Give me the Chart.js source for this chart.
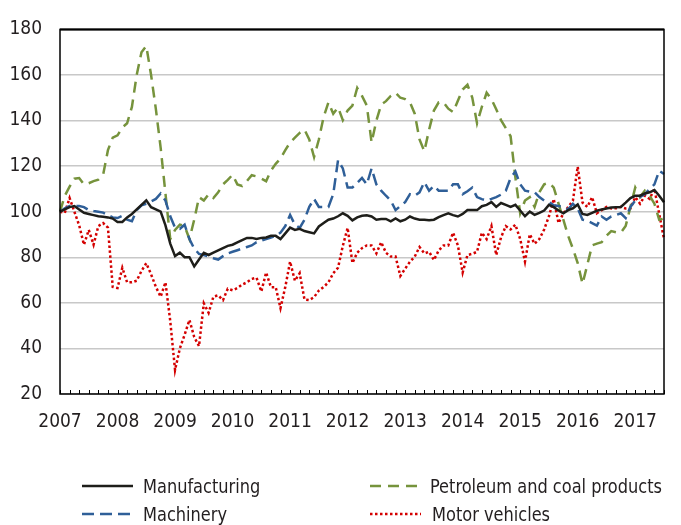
<!DOCTYPE html>
<html>
<head>
<meta charset="utf-8">
<script src="https://cdn.jsdelivr.net/npm/chart.js@4.4.1/dist/chart.umd.min.js"></script>
<style>
  html, body { margin: 0; padding: 0; background: #fff; }
  #wrap { position: relative; width: 681px; height: 525px; }
  #legend { position: absolute; left: 0; top: 0; width: 681px; height: 525px; pointer-events: none;
            font-family: "Liberation Sans Narrow", "Arial Narrow", "DejaVu Sans Condensed", sans-serif;
            font-size: 20px; color: #231f20; }
  .item { position: absolute; display: flex; align-items: center; white-space: nowrap; height: 24px; }
  .item span { display: inline-block; transform: scaleX(0.9); transform-origin: left center; }
</style>
</head>
<body>
<div id="wrap">
  <canvas id="myChart" width="681" height="525"></canvas>
  <div id="legend"></div>
</div>
<script>
// month labels Jan 2007 .. Jul 2017
const years = [2007, 2008, 2009, 2010, 2011, 2012, 2013, 2014, 2015, 2016, 2017];
const months = [];
years.forEach(y => {
    for (let m = 1; m <= 12; m++) months.push(y + '-' + String(m).padStart(2, '0'));
});
months.length = 127;

const yTicks = [20, 40, 60, 80, 100, 120, 140, 160, 180];

// index values, Jan 2007 = 100
const manufacturing = [
    100, 101, 102, 102.5, 101, 99.5, 99, 98.5, 98, 97.8, 97.5, 97,
    95.5, 95.5, 97.5, 99, 101, 103, 105, 102, 101, 100, 94, 86,
    80.5, 82, 80, 80, 76, 79, 82, 81, 82, 83, 84, 85,
    85.5, 86.5, 87.5, 88.5, 88.5, 88, 88.5, 88.7, 89.4, 89.4, 88, 90.5,
    93, 92, 92.5, 91.5, 91, 90.5, 93.5, 95, 96.5, 97, 98, 99.3,
    98.2, 96.2, 97.5, 98.2, 98.4, 97.9, 96.5, 96.8, 96.8, 95.8, 97, 95.8,
    96.5, 97.9, 97, 96.5, 96.5, 96.2, 96.5, 97.6, 98.5, 99.3, 98.5, 97.9,
    99, 100.7, 100.7, 100.7, 102.4, 103, 104.2, 102.1, 103.8, 103, 102.1, 103,
    100.5, 98, 100, 98.6, 99.5, 100.5, 103, 102, 100.5, 99.3, 100.7, 101.5,
    103.2, 99, 98.6, 99.5, 100.4, 101, 101.4, 101.8, 102, 102.1, 104, 106,
    107, 107, 108, 108.5, 109.5, 107, 104.2
];
const machinery = [
    100, 101.5, 102.5, 102.5, 102.5, 102, 100.7, 100.3, 100, 99.6, 98.5, 97.5,
    97.2, 98.2, 96.5, 95.8, 100.7, 102.8, 103.5, 104.5, 105.6, 108, 104.9, 98,
    93, 92.5, 94.3, 88, 83.8, 81.5, 81, 80.3, 79.6, 79, 80.5, 81.7,
    82.4, 83.1, 83.8, 84.5, 85.2, 86.6, 87.3, 88, 88.7, 89.4, 90.8, 93.7,
    98.6, 94.3, 92.9, 96.5, 102.1, 105.6, 102.1, 102.1, 102.1, 107.7, 122.6, 119,
    110.6, 110.6, 112.7, 114.8, 112, 119, 112, 109.2, 107, 104.9, 100.7, 102.5,
    104.2, 107.7, 107, 108.5, 113, 109.2, 111.3, 109.2, 109.2, 109.2, 112, 112,
    107.7, 109, 110.6, 106.4, 105.5, 104.9, 105.6, 106.4, 107.5, 109.2, 114.8, 117.6,
    112, 109.2, 108.8, 108.5, 106.4, 104.9, 104.2, 102.8, 102.5, 102.1, 101, 103.5,
    101.4, 96.5, 96, 95, 93.9, 97.9, 96.5, 97.9, 98.5, 99.3, 97.2, 102.1,
    104.9, 106.5, 107.7, 110, 112, 118, 116.5
];
const petroleum = [
    100, 107, 111, 114.5, 114.8, 112, 112.5, 113.4, 114.1, 116.2, 127, 132.5,
    133.5, 137, 138.8, 146, 160, 170, 172.7, 160, 145, 128, 108, 88,
    92, 94.3, 93.7, 88, 96.5, 106.4, 104.9, 107.7, 106, 108.5, 112, 114,
    116.2, 112, 111.3, 113.5, 116, 115.5, 114.5, 113.4, 118, 121, 123.3, 127,
    130.4, 132.5, 134.6, 136, 131.7, 124, 131.7, 141.6, 148, 143, 145.8, 140.2,
    144.4, 146.6, 154.3, 150.8, 146.6, 130.4, 140, 147, 148.5, 150.8, 152.2, 150,
    149.4, 148, 143, 131.7, 126.5, 136, 144.4, 148, 148, 145.2, 143.7, 148.7,
    153.6, 155.7, 150.1, 138.8, 146, 152.2, 149.4, 145, 140.2, 136.7, 133.1, 115,
    99.3, 104.9, 106.4, 102.1, 108.5, 112, 112.7, 110.6, 103.5, 96.5, 89.4, 83.8,
    77.4, 68.3, 76.7, 85.2, 86, 86.6, 89.4, 91.5, 91, 90.8, 93.7, 102.1,
    110.6, 106.4, 109.2, 107, 103.5, 96.5, 97
];
const motorVehicles = [
    100, 99.5, 106, 100, 94, 85.5, 92, 85.5, 93.7, 95, 93, 67,
    66.5, 75.4, 69, 69, 69.7, 74, 77.4, 72.5, 67, 62.7, 69, 52,
    30.5, 40, 46, 52.5, 45, 41, 59.8, 55.6, 62.7, 63.3, 61.2, 66.2,
    65.5, 66.5, 68, 69, 70.5, 71, 65, 73.3, 66.9, 66.9, 57.7, 67,
    78.1, 69.7, 73, 61.5, 61.2, 62.5, 65.4, 67, 69, 73, 75.4, 85,
    92.9, 77.5, 82, 84, 85.2, 85.2, 81.7, 86.6, 82, 80.3, 80.3, 71.8,
    75, 78, 80.3, 84.5, 81.7, 82.4, 78.8, 83, 85.2, 85.2, 90.8, 85.2,
    73.3, 81, 81.5, 82.4, 90.8, 88, 93.7, 81, 88.7, 93.7, 92.2, 94.3,
    88, 78.1, 90.1, 85.9, 88, 92.2, 98, 105.6, 95, 99.3, 102, 104.9,
    119.8, 104, 102.1, 106.4, 99.3, 100.7, 102.1, 101.4, 101.5, 102.1, 101.4, 101.4,
    106.4, 103.5, 107, 105.6, 110, 99, 88
];

const FONT = '"Liberation Sans Narrow", "Arial Narrow", "DejaVu Sans Condensed", sans-serif';
Chart.defaults.font.family = FONT;
Chart.defaults.font.size = 19;
Chart.defaults.color = '#231f20';

// frame and small upward ticks on the x axis
const framePlugin = {
    id: 'frame',
    afterDraw(chart) {
        const { ctx, chartArea: a, scales: { x } } = chart;
        ctx.save();
        ctx.strokeStyle = '#000';
        ctx.lineWidth = 1;
        ctx.beginPath();
        for (let i = 0; i < months.length; i += 2) {
            const px = Math.round(x.getPixelForValue(i)) + 0.5;
            ctx.moveTo(px, a.bottom);
            ctx.lineTo(px, a.bottom - 4);
        }
        ctx.stroke();
        ctx.lineWidth = 1.5;
        ctx.strokeRect(a.left, a.top, a.right - a.left, a.bottom - a.top);
        ctx.lineWidth = 2;
        ctx.beginPath();
        ctx.moveTo(a.left, a.top);
        ctx.lineTo(a.right, a.top);
        ctx.stroke();
        ctx.restore();
    }
};

const ctx = document.getElementById('myChart').getContext('2d');
const myChart = new Chart(ctx, {
    type: 'line',
    data: {
        labels: months,
        datasets: [
            { label: 'Manufacturing', data: manufacturing, borderColor: '#1e1e1a', borderWidth: 2.5 },
            { label: 'Machinery', data: machinery, borderColor: '#2f5f98', borderWidth: 2.5, borderDash: [12, 6] },
            { label: 'Petroleum and coal products', data: petroleum, borderColor: '#76933c', borderWidth: 2.5, borderDash: [11, 7] },
            { label: 'Motor vehicles', data: motorVehicles, borderColor: '#d40000', borderWidth: 2.5, borderDash: [2.5, 2.5] }
        ]
    },
    options: {
        responsive: false,
        animation: false,
        layout: { padding: { left: 0, top: 16, right: 3, bottom: 0 } },
        elements: { point: { radius: 0 }, line: { tension: 0, borderCapStyle: 'butt', fill: false } },
        plugins: { legend: { display: false }, tooltip: { enabled: false } },
        scales: {
            x: {
                type: 'category',
                offset: false,
                grid: { display: false, drawTicks: false },
                border: { display: false },
                afterFit: s => { s.height = 131; },
                ticks: {
                    autoSkip: false,
                    maxRotation: 0,
                    padding: 17,
                    callback: function (v, i) {
                        const l = months[i];
                        return l.endsWith('-01') ? l.slice(0, 4) : '';
                    }
                }
            },
            y: {
                min: 20,
                max: 180,
                afterFit: s => { s.width = 60; },
                afterBuildTicks: s => { s.ticks = yTicks.map(v => ({ value: v })); },
                grid: { color: '#c8c8c8', lineWidth: 1.5, drawTicks: false },
                border: { display: false },
                ticks: { padding: 18 }
            }
        }
    },
    plugins: [framePlugin]
});

// legend in two columns under the chart
const legendPos = {
    'Manufacturing': [82, 486, 143],
    'Petroleum and coal products': [370, 486, 430],
    'Machinery': [82, 514, 143],
    'Motor vehicles': [370, 514, 432]
};
const legend = document.getElementById('legend');
myChart.data.datasets.forEach(ds => {
    const [sx, cy, tx] = legendPos[ds.label];
    const item = document.createElement('div');
    item.className = 'item';
    item.style.left = sx + 'px';
    item.style.top = (cy - 12) + 'px';
    const w = 51;
    const dash = ds.borderDash ? ds.borderDash.join(' ') : 'none';
    item.innerHTML = `<svg width="${w}" height="6" style="margin-right:${tx - sx - w}px">
        <line x1="0" y1="3" x2="${w}" y2="3" stroke="${ds.borderColor}" stroke-width="2.5" stroke-dasharray="${dash}"/></svg>
        <span>${ds.label}</span>`;
    legend.appendChild(item);
});
</script>
</body>
</html>
